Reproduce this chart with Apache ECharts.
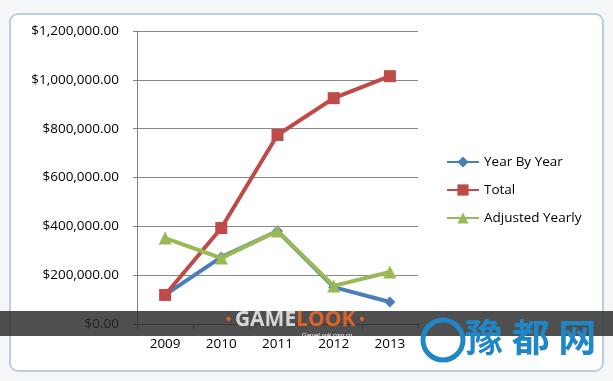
<!DOCTYPE html>
<html><head><meta charset="utf-8">
<script src="https://cdn.jsdelivr.net/npm/echarts@6/dist/echarts.min.js"></script>
<style>html,body{margin:0;padding:0;background:#f4f6f8;}#c{width:613px;height:381px;}</style>
</head><body><div id="c"></div>
<script>
const categories = ['2009','2010','2011','2012','2013'];
const yearByYear = [119000, 274000, 381000, 151000, 90000];
const total = [119000, 393000, 774000, 925000, 1015000];
const adjustedYearly = [352000, 270000, 381000, 156000, 213000];
const seriesNames = ['Year By Year','Total','Adjusted Yearly'];

const chart = echarts.init(document.getElementById('c'), null, {renderer:'canvas'});
const font = '"Open Sans", "Noto Sans", sans-serif';
function money(v){
  return '$' + Number(v).toLocaleString('en-US',{minimumFractionDigits:2, maximumFractionDigits:2});
}
const colors = ['#4A7EBB','#BE4B48','#98B954'];
const symbols = ['diamond','rect','triangle'];
const sizes = [11,12,13];
const data = [yearByYear, total, adjustedYearly];
chart.setOption({
  backgroundColor: '#f4f6f8',
  animation: false,
  textStyle: {fontFamily: font},
  graphic: [
    {type:'rect', z:-10, shape:{x:10,y:14,width:593,height:357,r:8}, style:{fill:'#ffffff', stroke:'#b9cfdc', lineWidth:2}},
    {type:'rect', z:100, shape:{x:0,y:311,width:613,height:25}, style:{fill:'rgba(40,40,40,0.82)'}},
    {type:'text', z:101, left:226, top:310, style:{
      text:'{d|•}{g|GAME}{l|LOOK}{d|•}',
      rich:{
        d:{fill:'#e0622a', font:'bold 14px sans-serif', padding:[0,4,0,4]},
        g:{fill:'#d8d8d8', font:'bold 21px "Open Sans", sans-serif'},
        l:{fill:'#e0622a', font:'bold 21px "Open Sans", sans-serif'}
      }}},
    {type:'text', z:101, left:302, top:332, style:{text:'GameLook.com.cn', fill:'#ffffff', font:'6px sans-serif'}},
    {type:'circle', z:101, shape:{cx:443, cy:340, r:20}, style:{fill:'none', stroke:'#1f86c8', lineWidth:5}},
    {type:'text', z:101, left:465, top:318, style:{text:'豫 都 网', fill:'#1f86c8', font:'bold 38px "Noto Sans CJK SC", sans-serif'}}
  ],
  grid: {left:137, right:195, top:31, bottom:57, containLabel:false},
  legend: {
    orient:'vertical', left:441, top:150, itemGap:14, itemWidth:32, itemHeight:14,
    textStyle:{fontSize:13.5, color:'#000', fontFamily:font},
    data: seriesNames
  },
  xAxis: {
    type:'category', data:categories, boundaryGap:true,
    axisLine:{lineStyle:{color:'#808080', width:1}},
    axisTick:{show:true, length:5, inside:false, alignWithLabel:false, lineStyle:{color:'#808080'}},
    axisLabel:{color:'#000', fontSize:13.5, margin:13, fontFamily:font}
  },
  yAxis: {
    type:'value', min:0, max:1200000, interval:200000,
    axisLine:{show:true, lineStyle:{color:'#808080', width:1}},
    axisTick:{show:true, length:4, lineStyle:{color:'#808080'}},
    splitLine:{lineStyle:{color:'#888888', width:1}},
    axisLabel:{color:'#000', fontSize:13.5, margin:18, fontFamily:font, formatter:money}
  },
  series: seriesNames.map((n,i)=>({
    name:n, type:'line', data:data[i], symbol:symbols[i], symbolSize:sizes[i],
    showAllSymbol:true,
    lineStyle:{color:colors[i], width:4},
    itemStyle:{color:colors[i]},
    z: 2+i
  }))
});
</script></body></html>
